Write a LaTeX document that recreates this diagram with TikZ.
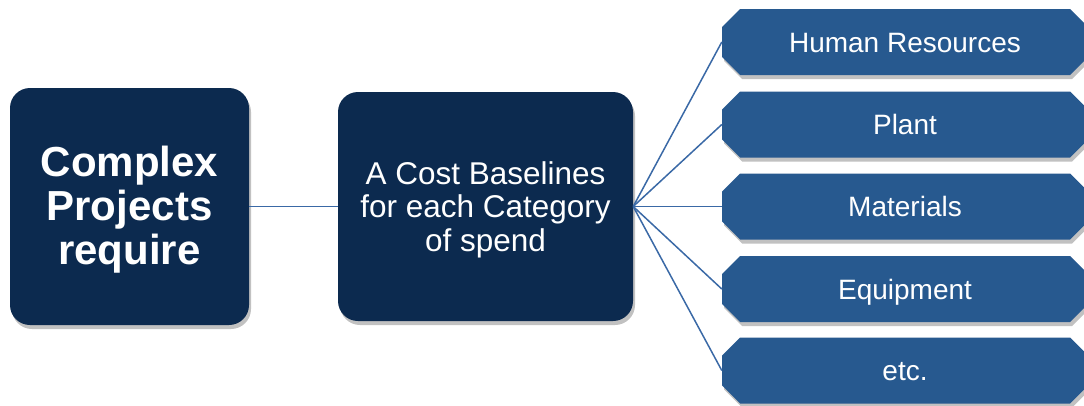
\documentclass[tikz,border=0pt]{standalone}
\usepackage{fontspec}
\setmainfont{Liberation Sans}
\usetikzlibrary{shadows}
\definecolor{navy}{HTML}{0C2A4F}
\definecolor{octblue}{HTML}{27598F}
\definecolor{linkblue}{HTML}{3A69A6}
\begin{document}
\begin{tikzpicture}[x=1pt,y=-1pt,
  shadowed/.style={drop shadow={shadow xshift=2pt,shadow yshift=-4pt,opacity=0.35,fill=black!70}},
  bigbox/.style={shadowed,rounded corners=20pt,fill=navy,inner sep=0pt},
  boxtext/.style={text=white,align=center,inner sep=0pt},
  octfill/.style={shadowed,fill=octblue},
  octtext/.style={text=white,font=\fontsize{28}{32}\selectfont,minimum width=366pt,
    text height=20pt,text depth=0pt,inner sep=0pt},
  link/.style={draw=linkblue,line width=1.5pt}]
\useasboundingbox (0,0) rectangle (1084,405);
\node[bigbox,minimum width=239pt,minimum height=237pt] (cp) at (129.5,206.5) {};
\node[boxtext,font=\fontsize{42}{44}\selectfont\bfseries] (cpt) at ([yshift=-3pt]cp.center) {Complex\\Projects\\require};
\node[bigbox,minimum width=295pt,minimum height=229pt] (cb) at (485.5,206.5) {};
\node[boxtext,font=\fontsize{31.5}{33.5}\selectfont] (cbt) at ([yshift=-3pt]cb.center) {A Cost Baselines\\for each Category\\of spend};
\draw[link] (cp.east) -- (cb.west);
\foreach \n/\cy/\t in {o1/42/Human Resources,o2/124.5/Plant,o3/206.5/Materials,o4/289/Equipment,o5/370.5/etc.}{
  \fill[octfill] (722,\cy-15) -- (740,\cy-33) -- (1070,\cy-33) -- (1088,\cy-15)
    -- (1088,\cy+15) -- (1070,\cy+33) -- (740,\cy+33) -- (722,\cy+15) -- cycle;
  \node[octtext] (\n) at (905,\cy) {\t};
  \draw[link] (cb.east) -- (\n.west);
}
\end{tikzpicture}
\end{document}
